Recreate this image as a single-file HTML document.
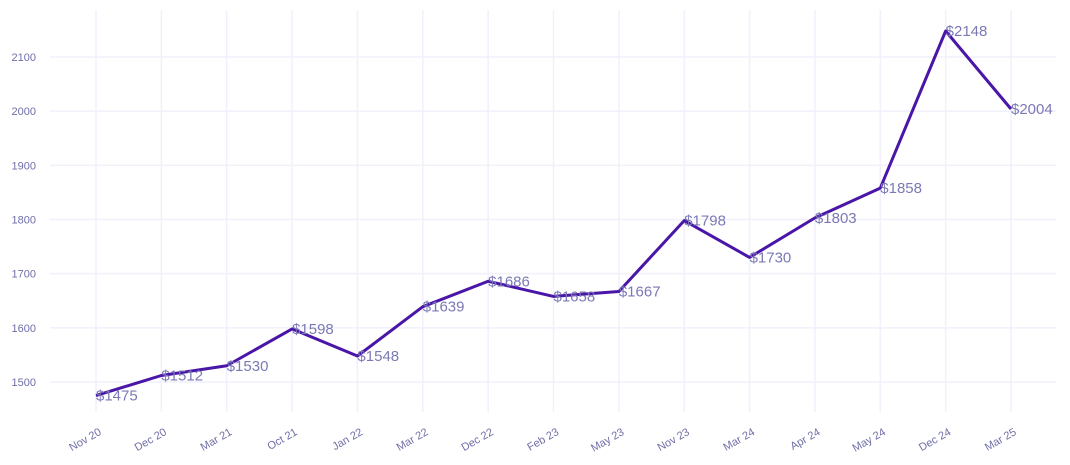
<!DOCTYPE html>
<html><head><meta charset="utf-8"><style>
body{margin:0;background:#fff;}
svg{display:block;font-family:"Liberation Sans",sans-serif;}
</style></head><body>
<svg id="chart" width="1070" height="465"></svg>
<script>
const categories=["Nov 20","Dec 20","Mar 21","Oct 21","Jan 22","Mar 22","Dec 22","Feb 23","May 23","Nov 23","Mar 24","Apr 24","May 24","Dec 24","Mar 25"];
const values=[1475,1512,1530,1598,1548,1639,1686,1658,1667,1798,1730,1803,1858,2148,2004];
const yTicks=[1500,1600,1700,1800,1900,2000,2100];
const NS="http://www.w3.org/2000/svg";
const svg=document.getElementById('chart');
const x0=96,dx=(1011-96)/(categories.length-1);
const xs=i=>x0+i*dx;
const ys=v=>382-(v-1500)*(325/600);
function mk(t,a){const e=document.createElementNS(NS,t);for(const k in a)e.setAttribute(k,a[k]);svg.appendChild(e);return e;}
const gg=mk('g',{});


yTicks.forEach(v=>{
 const l=mk('line',{x1:50,x2:1056,y1:ys(v),y2:ys(v),stroke:'#f1f0fb','stroke-width':1.5});
 
 
 const t=mk('text',{x:36,y:ys(v)+4,'text-anchor':'end','font-size':11,fill:'#6f6ea8'});
 t.textContent=v;
 
 
});
categories.forEach((c,i)=>{
 const l=mk('line',{x1:xs(i),x2:xs(i),y1:10,y2:412,stroke:'#f1f0fb','stroke-width':1.5});
 
 
 const t=mk('text',{x:xs(i)+6,y:434,'text-anchor':'end','font-size':11,fill:'#6f6ea8',transform:`rotate(-30 ${xs(i)+6} 434)`});
 t.textContent=c;
 
 
});
const p=mk('polyline',{points:values.map((v,i)=>xs(i)+','+ys(v)).join(' '),fill:'none',stroke:'#4a16a8','stroke-width':3,'stroke-linejoin':'round'});


values.forEach((v,i)=>{
 const t=mk('text',{x:xs(i),y:ys(v)+5,'font-size':15,fill:'#7b79b5'});
 t.textContent='$'+v;
 
 
});
</script>
</body></html>
